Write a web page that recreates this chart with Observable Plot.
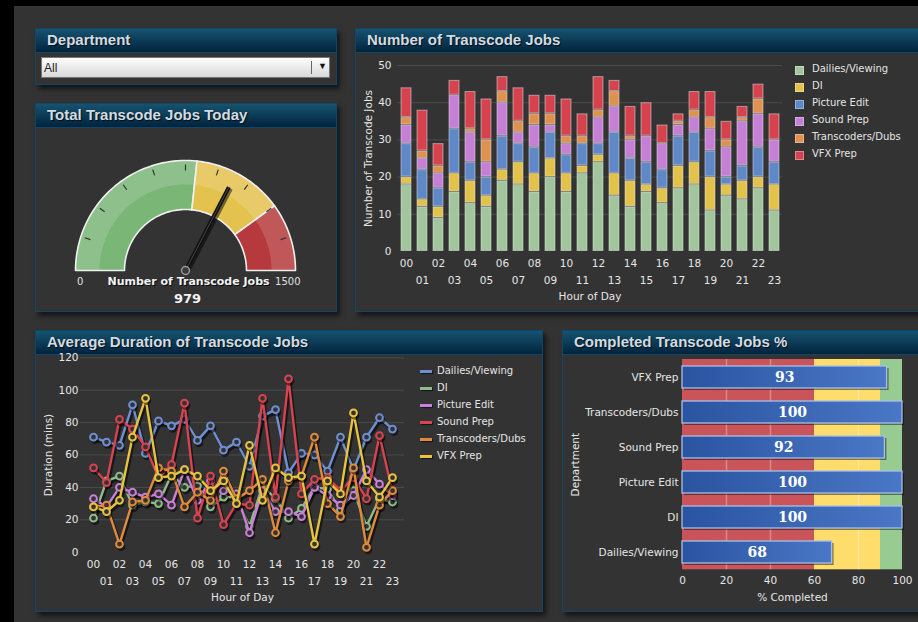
<!DOCTYPE html>
<html><head><meta charset="utf-8">
<script src="https://cdn.jsdelivr.net/npm/d3@7"></script>
<script src="https://cdn.jsdelivr.net/npm/@observablehq/plot@0.6"></script>
<style>
html,body{margin:0;padding:0;background:#000;width:918px;height:622px;overflow:hidden;font-family:"DejaVu Sans",Verdana,sans-serif;}
#page{position:absolute;left:14px;top:6px;width:930px;height:640px;background:#333;}
.panel{position:absolute;border:1px solid #0e4868;background:#333;box-shadow:3px 4px 5px rgba(0,0,0,0.6);box-sizing:border-box;}
.hdr{position:absolute;left:0;top:0;right:0;height:24px;background:linear-gradient(#16536f,#02233d);border-bottom:1px solid #0e4868;box-sizing:border-box;}
.hdr span{position:absolute;left:11px;top:2px;line-height:23px;font:bold 15px "Liberation Sans",Arial,sans-serif;color:#d3dbe2;text-shadow:1px 1px 1px rgba(0,0,0,.7);white-space:nowrap;}
.abs{position:absolute;}
.leg{position:absolute;font:10px "DejaVu Sans",sans-serif;color:#e4e4e4;white-space:nowrap;}
#dd{position:absolute;left:41px;top:57px;width:289px;height:21px;box-sizing:border-box;border:1px solid #777;background:linear-gradient(#fdfdfd,#d9d9d9);font:12px "Liberation Sans",Arial,sans-serif;color:#222;}
#dd .t{position:absolute;left:2px;top:3px;}
#dd .sep{position:absolute;left:269px;top:3px;width:1px;height:13px;background:#666;}
#dd .arr{position:absolute;left:276px;top:3px;font-size:9px;color:#111;}
</style></head><body>
<div id="page"></div>
<div class="panel" style="left:35px;top:28px;width:302px;height:57px;"><div class="hdr"><span>Department</span></div></div>
<div id="dd"><span class="t">All</span><span class="sep"></span><span class="arr">&#9660;</span></div>
<div class="panel" style="left:35px;top:103px;width:302px;height:209px;"><div class="hdr"><span>Total Transcode Jobs Today</span></div></div>
<div class="panel" style="left:355px;top:28px;width:600px;height:284px;"><div class="hdr"><span>Number of Transcode Jobs</span></div></div>
<div class="panel" style="left:35px;top:330px;width:508px;height:282px;"><div class="hdr"><span>Average Duration of Transcode Jobs</span></div></div>
<div class="panel" style="left:562px;top:330px;width:400px;height:282px;"><div class="hdr"><span>Completed Transcode Jobs %</span></div></div>
<div id="gauge" class="abs" style="left:60px;top:150px;"></div>
<div id="bars" class="abs" style="left:355px;top:52px;"></div>
<div id="barLegend"></div>
<div id="lines" class="abs" style="left:35px;top:350px;"></div>
<div id="lineLegend"></div>
<div id="bullet" class="abs" style="left:562px;top:355px;"></div>
<script>
// ---------- data ----------
const hours = ["00","01","02","03","04","05","06","07","08","09","10","11","12","13","14","15","16","17","18","19","20","21","22","23"];
const series = ["Dailies/Viewing","DI","Picture Edit","Sound Prep","Transcoders/Dubs","VFX Prep"];

// Number of transcode jobs per hour (stacked)
const jobsDailies     = [18,12, 9,16,13,12,19,18,16,20,16,21,24,15,12,16,13,17,18,11,15,14,17,11];
const jobsDI          = [ 2, 2, 3, 5, 6, 3, 3, 6, 5, 5, 5, 2, 2, 6, 7, 2, 4, 6, 6, 9, 3, 5, 3, 7];
const jobsPictureEdit = [ 9, 8, 5,12, 5, 5, 9, 5, 7, 7, 5, 6, 3,11, 6, 6, 5, 8, 8, 7, 2, 4, 8, 6];
const jobsSoundPrep   = [ 5, 3, 4, 9, 8, 4, 9, 3, 6, 2, 3, 0, 7, 7, 5, 7, 7, 3, 4, 6, 8,12, 9, 6];
const jobsTranscoders = [ 2, 2, 2, 0, 1, 6, 3, 3, 3, 3, 2, 2, 2, 4, 1, 0, 0, 1, 2, 3, 2, 1, 4, 0];
const jobsVFX         = [ 8,11, 6, 4,10,11, 4, 9, 5, 5,10, 6, 9, 3, 8, 9, 5, 2, 5, 7, 5, 3, 4, 7];
const jobsBySeries = [jobsDailies, jobsDI, jobsPictureEdit, jobsSoundPrep, jobsTranscoders, jobsVFX];
const barColors = ["#a1c69b","#e3c24b","#5f88c9","#c57fd5","#df914f","#d6434f"];
const jobTicks = [0,10,20,30,40,50];

// Average duration (mins) per hour
const durDailies     = [71,68,66,91,61,81,78,82,69,78,63,68,53,84,88,49,61,60,50,71,51,71,83,76];
const durDI          = [21,44,47,29,31,30,48,40,41,28,34,34,16,41,33,21,27,40,39,26,38,16,33,31];
const durPictureEdit = [33,28,40,37,34,36,29,51,32,44,38,36,12,38,25,25,22,40,35,29,35,51,42,35];
const durSoundPrep   = [52,43,82,76,65,46,54,92,21,47,17,30,29,95,34,107,36,45,46,38,46,33,72,37];
const durTranscoders = [28,29, 5,31,32,52,50,28,37,32,50,33,38,45,12,44,47,71,30,22,52, 3,29,38];
const durVFX         = [28,25,32,71,95,46,47,51,47,38,44,30,66,32,52,46,47, 5,44,36,86,44,34,46];
const durBySeries = [durDailies, durDI, durPictureEdit, durSoundPrep, durTranscoders, durVFX];
const lineColors = ["#6f8fd3","#8fbb8b","#c880d8","#d9434f","#e08a3c","#e8c33f"];
const durTicks = [0,20,40,60,80,100,120];

// Completed %
const departments = ["VFX Prep","Transcoders/Dubs","Sound Prep","Picture Edit","DI","Dailies/Viewing"];
const completed   = [93,100,92,100,100,68];
const completedBands = [{from:0,to:60,color:"#c9555a"},{from:60,to:90,color:"#fedd6d"},{from:90,to:100,color:"#97cb91"}];
const completedTicks = [0,20,40,60,80,100];
const completedGrid = [20,40,80];

// Gauge
const gaugeMin = 0, gaugeMax = 1500, gaugeValue = 979;
const gaugeBands = [{from:0,to:800,color:"#7ab676"},{from:800,to:1200,color:"#e4c24e"},{from:1200,to:1500,color:"#b63a3d"}];
const gaugeTicks = [150,300,450,600,750,900,1050,1200,1350];
const gaugeTitle = "Number of Transcode Jobs";

const baseStyle = {background:"transparent", color:"#e6e6e6", fontFamily:"DejaVu Sans, sans-serif", fontSize:"10.5px", overflow:"visible"};

// ---------- gauge ----------
{
  const R0 = 61, R1 = 110;
  const ang = v => Math.PI * (1 - (v - gaugeMin) / (gaugeMax - gaugeMin));
  const arc = (b, r0, r1) => {
    const pts = [], n = 48;
    for (let i = 0; i <= n; i++) { const a = ang(b.from + (b.to - b.from) * i / n); pts.push({x: r1*Math.cos(a), y: r1*Math.sin(a)}); }
    for (let i = n; i >= 0; i--) { const a = ang(b.from + (b.to - b.from) * i / n); pts.push({x: r0*Math.cos(a), y: r0*Math.sin(a)}); }
    pts.push(pts[0]);
    return pts;
  };
  const marks = [];
  gaugeBands.forEach(b => {
    marks.push(Plot.line(arc(b, R0, R1), {x:"x", y:"y", fill:b.color, stroke:"none", curve:"linear"}));
    marks.push(Plot.line(arc(b, 86, R1), {x:"x", y:"y", fill:"#fff", fillOpacity:0.15, stroke:"none"}));
    marks.push(Plot.line(arc(b, R0, R1), {x:"x", y:"y", fill:"none", stroke:"#f0f0f0", strokeWidth:1.6}));
  });
  marks.push(Plot.link(gaugeTicks, {x1: v => 100*Math.cos(ang(v)), y1: v => 100*Math.sin(ang(v)), x2: v => 106*Math.cos(ang(v)), y2: v => 106*Math.sin(ang(v)), stroke:"#333", strokeWidth:1.2}));
  marks.push(Plot.link([gaugeValue], {x1: 0, y1: 0, x2: v => 94*Math.cos(ang(v)), y2: v => 94*Math.sin(ang(v)), stroke:"#000", strokeOpacity:0.5, strokeWidth:5, dx:1.5, dy:1.5}));
  marks.push(Plot.link([gaugeValue], {x1: 0, y1: 0, x2: v => 94*Math.cos(ang(v)), y2: v => 94*Math.sin(ang(v)), stroke:"#111", strokeWidth:4}));
  marks.push(Plot.link([gaugeValue], {x1: 0, y1: 0, x2: v => 94*Math.cos(ang(v)), y2: v => 94*Math.sin(ang(v)), stroke:"#555", strokeWidth:0.8}));
  marks.push(Plot.dot([gaugeValue], {x: 0, y: 0, r:4, fill:"#3a3a3a", stroke:"#9a9a9a", strokeWidth:1.5}));
  marks.push(Plot.text([gaugeMin], {x: v => R1*Math.cos(ang(v)), y: 0, dx:1.5, dy:11, textAnchor:"start", text: v => String(v), fill:"#e0e0e0", fontSize:10}));
  marks.push(Plot.text([gaugeMax], {x: v => R1*Math.cos(ang(v)), y: 0, dx:5, dy:11, textAnchor:"end", text: v => String(v), fill:"#e0e0e0", fontSize:10}));
  marks.push(Plot.text([gaugeTitle], {frameAnchor:"bottom", lineAnchor:"middle", dx:4, dy:-28, fill:"#000", fontWeight:"bold", fontSize:11, fillOpacity:0.8}));
  marks.push(Plot.text([gaugeTitle], {frameAnchor:"bottom", lineAnchor:"middle", dx:3, dy:-29, fill:"#f2f2f2", fontWeight:"bold", fontSize:11}));
  marks.push(Plot.text([String(gaugeValue)], {frameAnchor:"bottom", lineAnchor:"middle", dx:2, dy:-12, fill:"#f2f2f2", fontWeight:"bold", fontSize:13}));
  const g = Plot.plot({width:250, height:160, margin:0, style:baseStyle,
    x:{domain:[-125,125], axis:null}, y:{domain:[-40,120], axis:null}, marks});
  document.getElementById("gauge").append(g);
}

// ---------- stacked bars ----------
{
  const table = [];
  hours.forEach((h, i) => series.forEach((s, j) => table.push({hour:h, series:s, count:jobsBySeries[j][i]})));
  const p = Plot.plot({
    width:440, height:255, marginLeft:42, marginRight:13, marginTop:13, marginBottom:56,
    style:baseStyle,
    x:{type:"band", domain:hours, paddingInner:0.38, paddingOuter:0.19, label:null},
    y:{domain:[0,50], label:null},
    color:{domain:series, range:barColors},
    marks:[
      Plot.gridY(jobTicks.slice(1), {stroke:"#4b4b4b", strokeOpacity:1}),
      Plot.barY(table, {x:"hour", y:"count", fill:"series", stroke:"#ececec", strokeOpacity:0.5, strokeWidth:1, insetTop:0.5, insetBottom:0.5}),
      Plot.axisY({ticks:jobTicks, tickSize:0, tickPadding:6, label:null}),
      Plot.axisX({ticks:hours.filter((h,i)=>i%2===0), tickSize:0, tickPadding:8, label:null}),
      Plot.axisX({ticks:hours.filter((h,i)=>i%2===1), tickSize:0, tickPadding:25, label:null}),
      Plot.text(["Hour of Day"], {frameAnchor:"bottom", lineAnchor:"middle", dy:45}),
      Plot.text(["Number of Transcode Jobs"], {frameAnchor:"left", textAnchor:"middle", lineAnchor:"middle", rotate:-90, dx:-29})
    ]
  });
  document.getElementById("bars").append(p);
  const leg = document.getElementById("barLegend");
  series.forEach((s, j) => {
    const y = 66 + j*17;
    leg.insertAdjacentHTML("beforeend",
      `<div class="abs" style="left:795px;top:${y}px;width:7px;height:7px;background:${barColors[j]};border:1px solid rgba(255,255,255,0.35)"></div>` +
      `<div class="leg" style="left:812px;top:${y-3}px;">${s}</div>`);
  });
}

// ---------- lines ----------
{
  const marks = [
    Plot.gridY(durTicks.slice(1), {stroke:"#4b4b4b", strokeOpacity:1}),
    Plot.axisY({ticks:durTicks, tickSize:0, tickPadding:2, label:null}),
    Plot.axisX({ticks:hours.filter((h,i)=>i%2===0), tickSize:0, tickPadding:8, label:null}),
    Plot.axisX({ticks:hours.filter((h,i)=>i%2===1), tickSize:0, tickPadding:25, label:null}),
    Plot.text(["Hour of Day"], {frameAnchor:"bottom", lineAnchor:"middle", dy:45.6}),
    Plot.text(["Duration (mins)"], {frameAnchor:"left", textAnchor:"middle", lineAnchor:"middle", rotate:-90, dx:-32})
  ];
  series.forEach((s, j) => {
    const d = hours.map((h, i) => ({hour:h, value:durBySeries[j][i]}));
    marks.push(Plot.line(d, {x:"hour", y:"value", stroke:"#000", strokeOpacity:0.55, strokeWidth:3, dx:1.5, dy:2.5}));
    marks.push(Plot.line(d, {x:"hour", y:"value", stroke:lineColors[j], strokeWidth:2.4}));
    marks.push(Plot.dot(d, {x:"hour", y:"value", r:4.3, fill:"#000", fillOpacity:0.5, dx:1.5, dy:2.5}));
    marks.push(Plot.dot(d, {x:"hour", y:"value", r:3.4, fill:"#333", stroke:lineColors[j], strokeWidth:2}));
  });
  const p = Plot.plot({
    width:375, height:260, marginLeft:45, marginRight:6, marginTop:7.3, marginBottom:58.3,
    style:baseStyle,
    x:{type:"point", domain:hours, padding:0.55, label:null},
    y:{domain:[0,120], label:null},
    marks
  });
  document.getElementById("lines").append(p);
  const leg = document.getElementById("lineLegend");
  series.forEach((s, j) => {
    const y = 370 + j*17;
    leg.insertAdjacentHTML("beforeend",
      `<div class="abs" style="left:420px;top:${y}px;width:12px;height:3px;background:${lineColors[j]};box-shadow:1px 1px 1px rgba(0,0,0,.6)"></div>` +
      `<div class="leg" style="left:437px;top:${y-5}px;">${s}</div>`);
  });
}

// ---------- bullet ----------
{
  const data = departments.map((d, i) => ({dept:d, value:completed[i]}));
  const defs = () => {
    const el = document.createElementNS("http://www.w3.org/2000/svg", "defs");
    el.innerHTML = `<linearGradient id="bulletGrad" x1="0" x2="1" y1="0" y2="0"><stop offset="0" stop-color="#2a54a0"/><stop offset="1" stop-color="#4a77c6"/></linearGradient>`;
    return el;
  };
  const marks = [defs];
  completedBands.forEach(b => marks.push(Plot.rect([b], {x1:"from", x2:"to", fill:b.color})));
  marks.push(
    Plot.ruleX(completedGrid, {stroke:"#fff", strokeOpacity:0.3, strokeWidth:1.5}),
    Plot.barX(data, {x:"value", y:"dept", fill:"#000", fillOpacity:0.45, dx:2, dy:2}),
    Plot.barX(data, {x:"value", y:"dept", fill:"url(#bulletGrad)", stroke:"#a8bfe8", strokeWidth:1.3}),
    Plot.text(data, {x: d => d.value/2, y:"dept", text: d => String(d.value), fill:"#fff", fontFamily:"DejaVu Serif, serif", fontWeight:"bold", fontSize:14}),
    Plot.axisY({tickSize:0, tickPadding:4, label:null}),
    Plot.axisX({ticks:completedTicks, tickSize:0, tickPadding:7, label:null}),
    Plot.text(["% Completed"], {frameAnchor:"bottom", lineAnchor:"middle", dy:27.4}),
    Plot.text(["Department"], {frameAnchor:"left", textAnchor:"middle", lineAnchor:"middle", rotate:-90, dx:-107})
  );
  const p = Plot.plot({
    width:356, height:257, marginLeft:120, marginRight:16, marginTop:4, marginBottom:42.7,
    style:baseStyle,
    x:{domain:[0,100], label:null},
    y:{type:"band", domain:departments, paddingInner:0.38, paddingOuter:0.19, label:null},
    marks
  });
  document.getElementById("bullet").append(p);
}
</script>
</body></html>
